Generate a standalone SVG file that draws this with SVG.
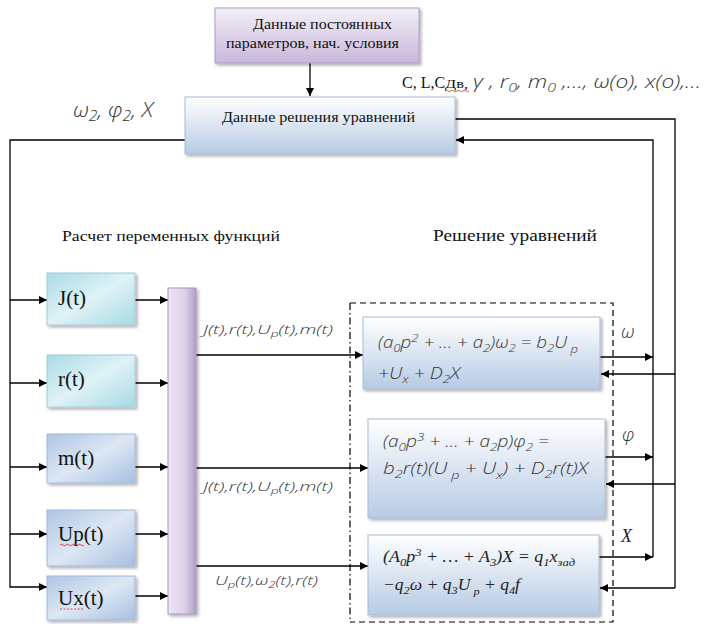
<svg xmlns="http://www.w3.org/2000/svg" width="714" height="624" viewBox="0 0 714 624">
<style>
.ln{fill:none;stroke:#000;stroke-width:1.3}
.ar{fill:none;stroke:#000;stroke-width:1.3;marker-end:url(#ah)}
.ru{font-family:"Liberation Serif","DejaVu Serif",serif;font-size:14px;fill:#111}
.lb{font-family:"Liberation Serif","DejaVu Serif",serif;font-size:21px;fill:#111}
.mi{font-family:"Open Sans","DejaVu Sans",sans-serif;font-style:italic;font-weight:300;fill:#333}
.ti{font-family:"Liberation Serif","DejaVu Serif",serif;font-style:italic;fill:#222}
.sub{font-size:70%}
</style>
<defs>
<marker id="ah" viewBox="0 0 10 10" refX="10" refY="5" markerWidth="10" markerHeight="8" markerUnits="userSpaceOnUse" orient="auto"><path d="M0,0 L10,5 L0,10 z" fill="#000"/></marker>
<linearGradient id="gLil" x1="0" y1="0" x2="0" y2="1"><stop offset="0" stop-color="#f4f0f8"/><stop offset="1" stop-color="#c9b7db"/></linearGradient>
<linearGradient id="gBlu" x1="0" y1="0" x2="0" y2="1"><stop offset="0" stop-color="#ffffff"/><stop offset="1" stop-color="#b6cbe4"/></linearGradient>
<linearGradient id="gCy" x1="0" y1="0" x2="1" y2="1"><stop offset="0" stop-color="#a9dbe6"/><stop offset="0.5" stop-color="#dff2f6"/><stop offset="1" stop-color="#a6d9e4"/></linearGradient>
<linearGradient id="gSt" x1="0" y1="0" x2="1" y2="1"><stop offset="0" stop-color="#aec5e3"/><stop offset="0.5" stop-color="#dde7f4"/><stop offset="1" stop-color="#a7bfe0"/></linearGradient>
<linearGradient id="gBar" x1="0" y1="0" x2="1" y2="0"><stop offset="0" stop-color="#ece6f3"/><stop offset="0.6" stop-color="#dcd1e8"/><stop offset="1" stop-color="#b29ecb"/></linearGradient>
<filter id="sh" x="-10%" y="-10%" width="130%" height="130%"><feDropShadow dx="2" dy="2" stdDeviation="1.5" flood-color="#000" flood-opacity="0.3"/></filter>
</defs>

<g id="connectors">
<line class="ar" x1="310" y1="63" x2="310" y2="96"/>
<polyline class="ln" points="455,119 675,119 675,588"/>
<line class="ar" x1="675" y1="374" x2="601" y2="374"/>
<line class="ar" x1="675" y1="484" x2="606" y2="484"/>
<line class="ar" x1="675" y1="588" x2="600" y2="588"/>
<polyline class="ar" points="653,557 653,140 456,140"/>
<line class="ar" x1="600" y1="357" x2="653" y2="357"/>
<line class="ar" x1="605" y1="457" x2="653" y2="457"/>
<line class="ar" x1="599" y1="557" x2="653" y2="557"/>
<polyline class="ar" points="185,140 10,140 10,587 47,587"/>
<line class="ar" x1="10" y1="300" x2="47" y2="300"/>
<line class="ar" x1="10" y1="383" x2="47" y2="383"/>
<line class="ar" x1="10" y1="467" x2="47" y2="467"/>
<line class="ar" x1="10" y1="534" x2="47" y2="534"/>
<line class="ar" x1="135" y1="300" x2="168" y2="300"/>
<line class="ar" x1="135" y1="383" x2="168" y2="383"/>
<line class="ar" x1="135" y1="467" x2="168" y2="467"/>
<line class="ar" x1="135" y1="534" x2="168" y2="534"/>
<line class="ar" x1="135" y1="596" x2="168" y2="596"/>
<line class="ar" x1="196" y1="355" x2="363" y2="355"/>
<line class="ar" x1="196" y1="468" x2="368" y2="468"/>
<line class="ar" x1="196" y1="566" x2="368" y2="566"/>
</g>

<g id="solver-frame">
<polyline points="350,303 613,303 613,622 350,622" fill="none" stroke="#000" stroke-width="1.2" stroke-dasharray="6,4"/>
<line x1="350" y1="303" x2="350" y2="622" stroke="#000" stroke-width="1.2" stroke-dasharray="7,3,1.5,3"/>
</g>

<g id="const-data">
<rect x="215" y="8" width="204" height="55" fill="url(#gLil)" stroke="#a99cc4" filter="url(#sh)"/>
<text class="ru" x="253" y="29" textLength="139" lengthAdjust="spacingAndGlyphs">Данные постоянных</text>
<text class="ru" x="226" y="48" textLength="173" lengthAdjust="spacingAndGlyphs">параметров, нач. условия</text>
</g>

<g id="solution-data">
<rect x="185" y="97" width="270" height="57" fill="url(#gBlu)" stroke="#a7bcd8" filter="url(#sh)"/>
<text class="ru" x="222" y="122" textLength="193" lengthAdjust="spacingAndGlyphs">Данные решения уравнений</text>
</g>

<g id="labels">
<text class="ru" x="402" y="88" style="font-size:16px">C, L,C</text>
<text class="ru" x="445" y="88" style="font-size:12px" textLength="23" lengthAdjust="spacingAndGlyphs">Дв,</text>
<path d="M445,91 q1.5,-1.5 3,0 t3,0 t3,0 t3,0 t3,0 t3,0 t3,0 t3,0" fill="none" stroke="#d22" stroke-width="0.8"/>
<text class="mi" x="473" y="88" font-size="19" textLength="228" lengthAdjust="spacingAndGlyphs">γ , r<tspan class="sub" dy="4">0</tspan><tspan dy="-4">, m</tspan><tspan class="sub" dy="4">0</tspan><tspan dy="-4"> ,…, ω(o), x(o),…</tspan></text>
<text class="mi" x="73" y="117" font-size="20" fill="#222" textLength="80" lengthAdjust="spacingAndGlyphs">ω<tspan class="sub" dy="4">2</tspan><tspan dy="-4">, φ</tspan><tspan class="sub" dy="4">2</tspan><tspan dy="-4">, X</tspan></text>
<text class="ru" x="62" y="241" style="font-size:15.5px" textLength="218" lengthAdjust="spacingAndGlyphs">Расчет переменных функций</text>
<text class="ru" x="433" y="241" style="font-size:16px" textLength="164" lengthAdjust="spacingAndGlyphs">Решение уравнений</text>
<text class="mi" x="203" y="334" font-size="13" fill="#444" textLength="130" lengthAdjust="spacingAndGlyphs">J(t),r(t),U<tspan class="sub" dy="3">p</tspan><tspan dy="-3">(t),m(t)</tspan></text>
<text class="mi" x="203" y="491" font-size="13" fill="#444" textLength="130" lengthAdjust="spacingAndGlyphs">J(t),r(t),U<tspan class="sub" dy="3">p</tspan><tspan dy="-3">(t),m(t)</tspan></text>
<text class="mi" x="215" y="585" font-size="13" fill="#444" textLength="103" lengthAdjust="spacingAndGlyphs">U<tspan class="sub" dy="3">p</tspan><tspan dy="-3">(t),ω</tspan><tspan class="sub" dy="3">2</tspan><tspan dy="-3">(t),r(t)</tspan></text>
<text class="mi" x="621" y="338" font-size="19" fill="#222">ω</text>
<text class="mi" x="622" y="441" font-size="19" fill="#222">φ</text>
<text class="ti" x="621" y="542" font-size="18">X</text>
</g>

<g id="J">
<rect x="47" y="273" width="88" height="52" fill="url(#gCy)" stroke="#9ccdd9" filter="url(#sh)"/>
<text class="lb" x="58" y="305">J(t)</text>
</g>
<g id="r">
<rect x="47" y="355" width="88" height="52" fill="url(#gCy)" stroke="#9ccdd9" filter="url(#sh)"/>
<text class="lb" x="58" y="386">r(t)</text>
</g>
<g id="m">
<rect x="47" y="434" width="88" height="49" fill="url(#gSt)" stroke="#9fb8db" filter="url(#sh)"/>
<text class="lb" x="58" y="465">m(t)</text>
</g>
<g id="Up">
<rect x="47" y="510" width="88" height="56" fill="url(#gSt)" stroke="#9fb8db" filter="url(#sh)"/>
<text class="lb" x="58" y="541">Up(t)</text>
<path d="M60,545 q1.5,-1.5 3,0 t3,0 t3,0 t3,0 t3,0 t3,0 t3,0 t3,0" fill="none" stroke="#d22" stroke-width="0.8"/>
</g>
<g id="Ux">
<rect x="47" y="576" width="88" height="44" fill="url(#gSt)" stroke="#9fb8db" filter="url(#sh)"/>
<text class="lb" x="58" y="605">Ux(t)</text>
<path d="M60,609 h24" fill="none" stroke="#d22" stroke-width="0.8" stroke-dasharray="2,1.5"/>
</g>

<g id="bus">
<rect x="168" y="288" width="28" height="326" fill="url(#gBar)" stroke="#a893c4" filter="url(#sh)"/>
</g>

<g id="eq1">
<rect x="363" y="317" width="237" height="72" fill="url(#gBlu)" stroke="#a7bcd8" filter="url(#sh)"/>
<text class="mi" x="378" y="348" font-size="15.5" textLength="200" lengthAdjust="spacingAndGlyphs">(a<tspan class="sub" dy="4">0</tspan><tspan dy="-4">p</tspan><tspan class="sub" dy="-6">2</tspan><tspan dy="6"> + … + a</tspan><tspan class="sub" dy="4">2</tspan><tspan dy="-4">)ω</tspan><tspan class="sub" dy="4">2</tspan><tspan dy="-4"> = b</tspan><tspan class="sub" dy="4">2</tspan><tspan dy="-4">U</tspan><tspan class="sub" dy="5"> p</tspan></text>
<text class="mi" x="378" y="379" font-size="15.5" textLength="82" lengthAdjust="spacingAndGlyphs">+U<tspan class="sub" dy="4">x</tspan><tspan dy="-4"> + D</tspan><tspan class="sub" dy="4">2</tspan><tspan dy="-4">X</tspan></text>
</g>

<g id="eq2">
<rect x="368" y="419" width="237" height="99" fill="url(#gBlu)" stroke="#a7bcd8" filter="url(#sh)"/>
<text class="mi" x="383" y="447" font-size="15.5" textLength="166" lengthAdjust="spacingAndGlyphs">(a<tspan class="sub" dy="4">0</tspan><tspan dy="-4">p</tspan><tspan class="sub" dy="-6">3</tspan><tspan dy="6"> + … + a</tspan><tspan class="sub" dy="4">2</tspan><tspan dy="-4">p)φ</tspan><tspan class="sub" dy="4">2</tspan><tspan dy="-4"> =</tspan></text>
<text class="mi" x="383" y="474" font-size="15.5" textLength="205" lengthAdjust="spacingAndGlyphs">b<tspan class="sub" dy="4">2</tspan><tspan dy="-4">r(t)(U</tspan><tspan class="sub" dy="5"> p</tspan><tspan dy="-5"> + U</tspan><tspan class="sub" dy="5">x</tspan><tspan dy="-5">) + D</tspan><tspan class="sub" dy="4">2</tspan><tspan dy="-4">r(t)X</tspan></text>
</g>

<g id="eq3">
<rect x="368" y="535" width="231" height="80" fill="url(#gBlu)" stroke="#a7bcd8" filter="url(#sh)"/>
<text class="ti" x="383" y="562" font-size="16" textLength="192" lengthAdjust="spacingAndGlyphs">(A<tspan class="sub" dy="4">0</tspan><tspan dy="-4">p</tspan><tspan class="sub" dy="-6">3</tspan><tspan dy="6"> + … + A</tspan><tspan class="sub" dy="4">3</tspan><tspan dy="-4">)X = q</tspan><tspan class="sub" dy="4">1</tspan><tspan dy="-4">x</tspan><tspan class="sub" dy="4">зад</tspan></text>
<text class="ti" x="383" y="590" font-size="16" textLength="137" lengthAdjust="spacingAndGlyphs">−q<tspan class="sub" dy="4">2</tspan><tspan dy="-4">ω + q</tspan><tspan class="sub" dy="4">3</tspan><tspan dy="-4">U</tspan><tspan class="sub" dy="5"> p</tspan><tspan dy="-5"> + q</tspan><tspan class="sub" dy="4">4</tspan><tspan dy="-4">f</tspan></text>
</g>
</svg>
